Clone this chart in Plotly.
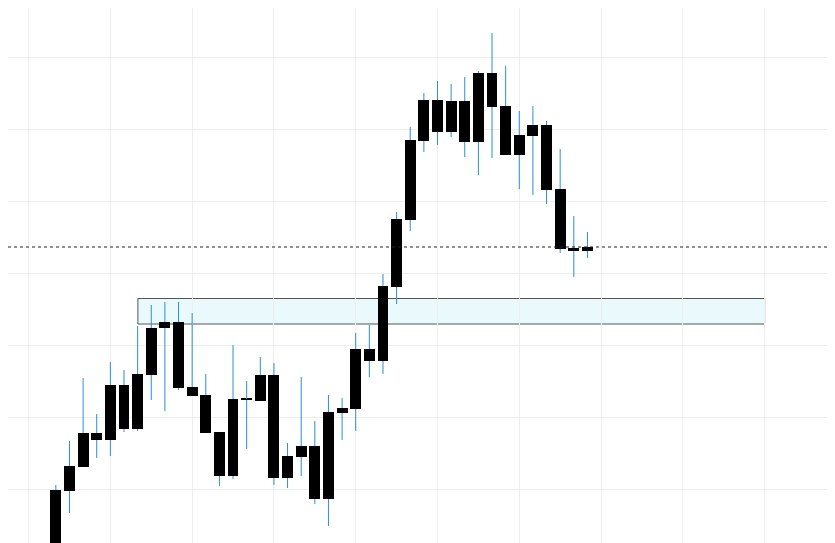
import plotly.graph_objects as go

# price values (arbitrary units), one entry per candle
high = [115, 159, 222, 186, 238, 230, 274, 295, 298, 298, 287, 226, 168, 255, 219, 243, 237, 157, 223, 179,
        205, 202, 267, 275, 326, 388, 473, 507, 519, 516, 523, 529, 567, 534, 489, 494, 479, 451, 384, 368]
low = [30, 87, 133, 142, 144, 168, 169, 200, 189, 210, 204, 167, 114, 121, 151, 199, 115, 112, 124, 96,
       74, 160, 169, 223, 226, 296, 369, 448, 455, 463, 443, 425, 442, 445, 411, 405, 396, 347, 323, 342]
open_ = [40, 109, 133, 167, 160, 215, 171, 225, 272, 278, 213, 205, 168, 124, 201, 199, 225, 144, 143, 154,
         101, 187, 191, 239, 239, 313, 380, 459, 500, 468, 458, 458, 527, 494, 465, 464, 475, 411, 352, 349]
close = [110, 134, 167, 160, 215, 171, 226, 272, 278, 212, 204, 167, 124, 201, 200, 225, 122, 122, 154, 101,
         188, 192, 251, 251, 314, 381, 460, 500, 468, 499, 499, 527, 493, 445, 445, 475, 410, 351, 349, 353]
x = list(range(len(high)))

last_price = 353
zone_low, zone_high = 276, 301.5
zone_x0, zone_x1 = 6.02, 52

top = [max(o, c) for o, c in zip(open_, close)]
bot = [min(o, c) for o, c in zip(open_, close)]

# wicks drawn outside the bodies only
wick_x, wick_y = [], []
for i in x:
    wick_x += [i, i, None, i, i, None]
    wick_y += [low[i], bot[i], None, top[i], high[i], None]

fig = go.Figure()
fig.add_trace(go.Scatter(x=wick_x, y=wick_y, mode="lines",
                         line=dict(color="#2a8fd0", width=1), hoverinfo="skip"))
fig.add_trace(go.Bar(x=x, y=[max(t - b, 1.5) for t, b in zip(top, bot)], base=bot,
                     width=0.8, marker=dict(color="black", line=dict(width=0))))

fig.add_shape(type="rect", x0=zone_x0, x1=zone_x1, y0=zone_low, y1=zone_high,
              fillcolor="rgba(220,245,250,0.6)", line=dict(color="#555", width=1), layer="below")
fig.add_shape(type="line", xref="paper", x0=0, x1=1, y0=last_price, y1=last_price,
              line=dict(color="#222", width=1, dash="dot"))

# ranges offset for the 8px page margin
fig.update_layout(
    width=835, height=543, margin=dict(l=0, r=0, t=0, b=0),
    plot_bgcolor="white", paper_bgcolor="white", showlegend=False, bargap=0,
    xaxis=dict(range=[-3.51, 57.75], tick0=-2, dtick=6, showticklabels=False,
               gridcolor="#eeeeee", zeroline=False),
    yaxis=dict(range=[49, 592], tick0=542.5, dtick=72, showticklabels=False,
               gridcolor="#eeeeee", zeroline=False),
)

fig.write_html("out.html")
